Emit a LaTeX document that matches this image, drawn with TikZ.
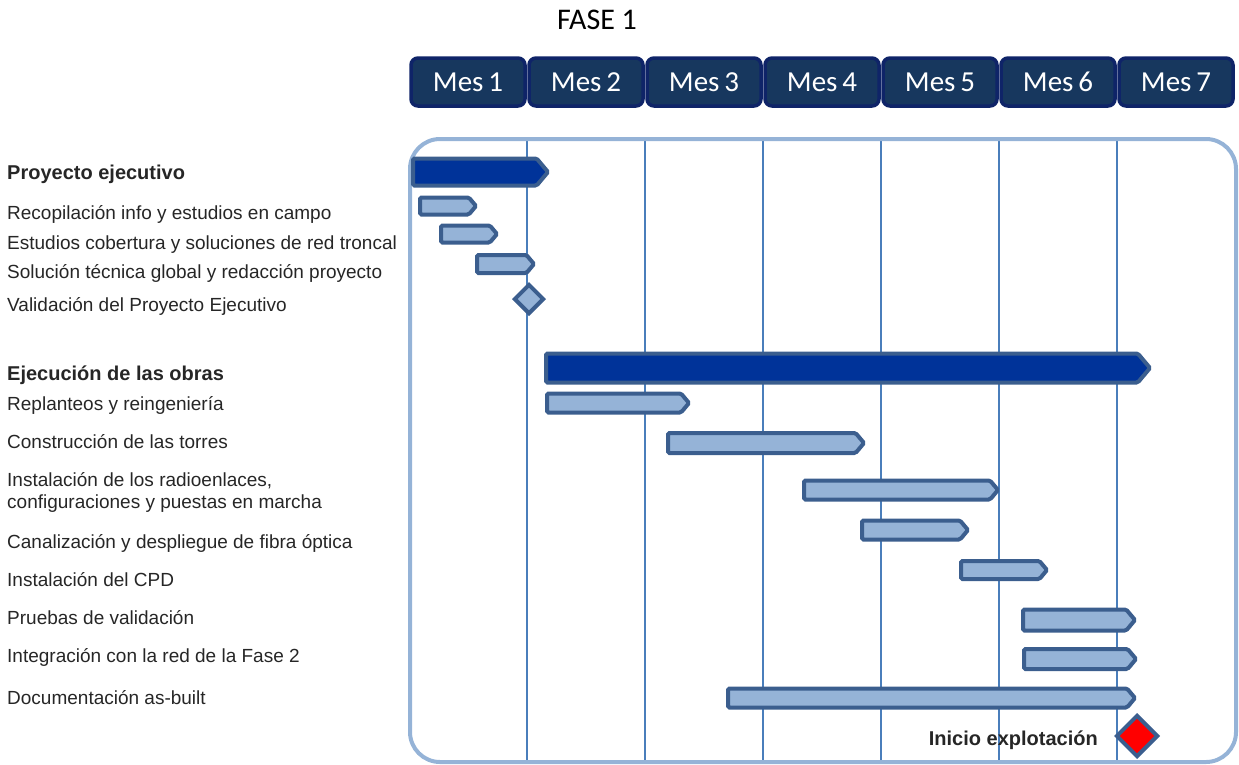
\documentclass[tikz,border=0pt]{standalone}
\usepackage{fontspec}
\setmainfont{Liberation Sans}
\newfontfamily\calfont{Carlito}
\usetikzlibrary{positioning,shapes.symbols,shapes.geometric}
\definecolor{mesfill}{HTML}{17375E}
\definecolor{mesline}{HTML}{0F2468}
\definecolor{sumfill}{HTML}{003399}
\definecolor{barline}{HTML}{3B5E8E}
\definecolor{barfill}{HTML}{95B3D7}
\definecolor{gridblue}{HTML}{4A7EBB}
\definecolor{txtgray}{HTML}{262626}
\tikzset{
  mesbox/.style={draw=mesline, fill=mesfill, line width=3.5pt, rounded corners=7pt,
    minimum width=114pt, minimum height=48pt, text=white, font=\calfont\fontsize{29}{30}\selectfont},
  taskbar/.style={signal, signal to=east, signal pointer angle=100, draw=barline, fill=barfill,
    line width=4pt, rounded corners=1.5pt, inner sep=0pt, anchor=west},
  sumbar/.style={taskbar, fill=sumfill},
  hito/.style={diamond, aspect=1, draw=barline, fill=barfill, line width=4pt, inner sep=0pt},
  tasklabel/.style={anchor=west, inner sep=0pt, text=txtgray, font=\fontsize{19}{22}\selectfont},
  grouplabel/.style={tasklabel, font=\bfseries\fontsize{20}{22}\selectfont},
  gridline/.style={gridblue, line width=1.6pt},
  frame/.style={barfill, line width=4pt, rounded corners=30pt}
}
% bar: name, style, x start, x end, y centre, height
\newcommand\gbar[6]{\node[#2, minimum width={#4pt-#3pt-4pt}, minimum height={#6pt-4pt}]
  (#1) at ({#3+2},#5) {};}
\begin{document}
\begin{tikzpicture}[x=1pt,y=-1pt]
\useasboundingbox (0,0) rectangle (1239,764);
\node[font=\calfont\fontsize{30}{32}\selectfont] (fase) at (597,20) {FASE 1};
\foreach \m in {1,...,7}
  \node[mesbox] (mes\m) at ({409+118*(\m-0.5)},82) {Mes\,\m};
\foreach \m in {1,...,6}
  \draw[gridline] ({409+118*\m},139) -- ({409+118*\m},764);
\draw[frame] (410,139) rectangle (1236,762);

% Proyecto ejecutivo
\gbar{pe}{sumbar}{409}{548}{172}{31}
\gbar{rec}{taskbar}{416}{476}{206}{21}
\gbar{est}{taskbar}{437}{497}{234}{21}
\gbar{sol}{taskbar}{473}{534}{264}{22}
\node[hito, minimum size=30pt] (val) at (529,299) {};

% Ejecucion de las obras
\gbar{eje}{sumbar}{542}{1150}{368}{33}
\gbar{rep}{taskbar}{543}{689}{403}{23}
\gbar{con}{taskbar}{664}{864}{443}{24}
\gbar{rad}{taskbar}{800}{998}{490}{23}
\gbar{can}{taskbar}{858}{968}{530}{23}
\gbar{cpd}{taskbar}{957}{1047}{570}{22}
\gbar{pru}{taskbar}{1019}{1135}{620}{25}
\gbar{int}{taskbar}{1020}{1136}{659}{24}
\gbar{doc}{taskbar}{724}{1135}{698}{23}
\node[hito, fill=red, minimum size=42pt] (ini) at (1137,736) {};
\node[grouplabel, anchor=east] (inil) at (1098,740) {Inicio explotación};

\node[grouplabel] (lpe) at (7,174) {Proyecto ejecutivo};
\node[tasklabel] (lrec) at (7,214) {Recopilación info y estudios en campo};
\node[tasklabel] (lest) at (7,245) {Estudios cobertura y soluciones de red troncal};
\node[tasklabel] (lsol) at (7,273) {Solución técnica global y redacción proyecto};
\node[tasklabel] (lval) at (7,306) {Validación del Proyecto Ejecutivo};
\node[grouplabel] (leje) at (7,375) {Ejecución de las obras};
\node[tasklabel] (lrep) at (7,405) {Replanteos y reingeniería};
\node[tasklabel] (lcon) at (7,442) {Construcción de las torres};
\node[tasklabel, align=left] (lrad) at (7,492) {Instalación de los radioenlaces,\\configuraciones y puestas en marcha};
\node[tasklabel] (lcan) at (7,543) {Canalización y despliegue de fibra óptica};
\node[tasklabel] (lcpd) at (7,580) {Instalación del CPD};
\node[tasklabel] (lpru) at (7,618) {Pruebas de validación};
\node[tasklabel] (lint) at (7,657) {Integración con la red de la Fase 2};
\node[tasklabel] (ldoc) at (7,698) {Documentación as-built};
\end{tikzpicture}
\end{document}
